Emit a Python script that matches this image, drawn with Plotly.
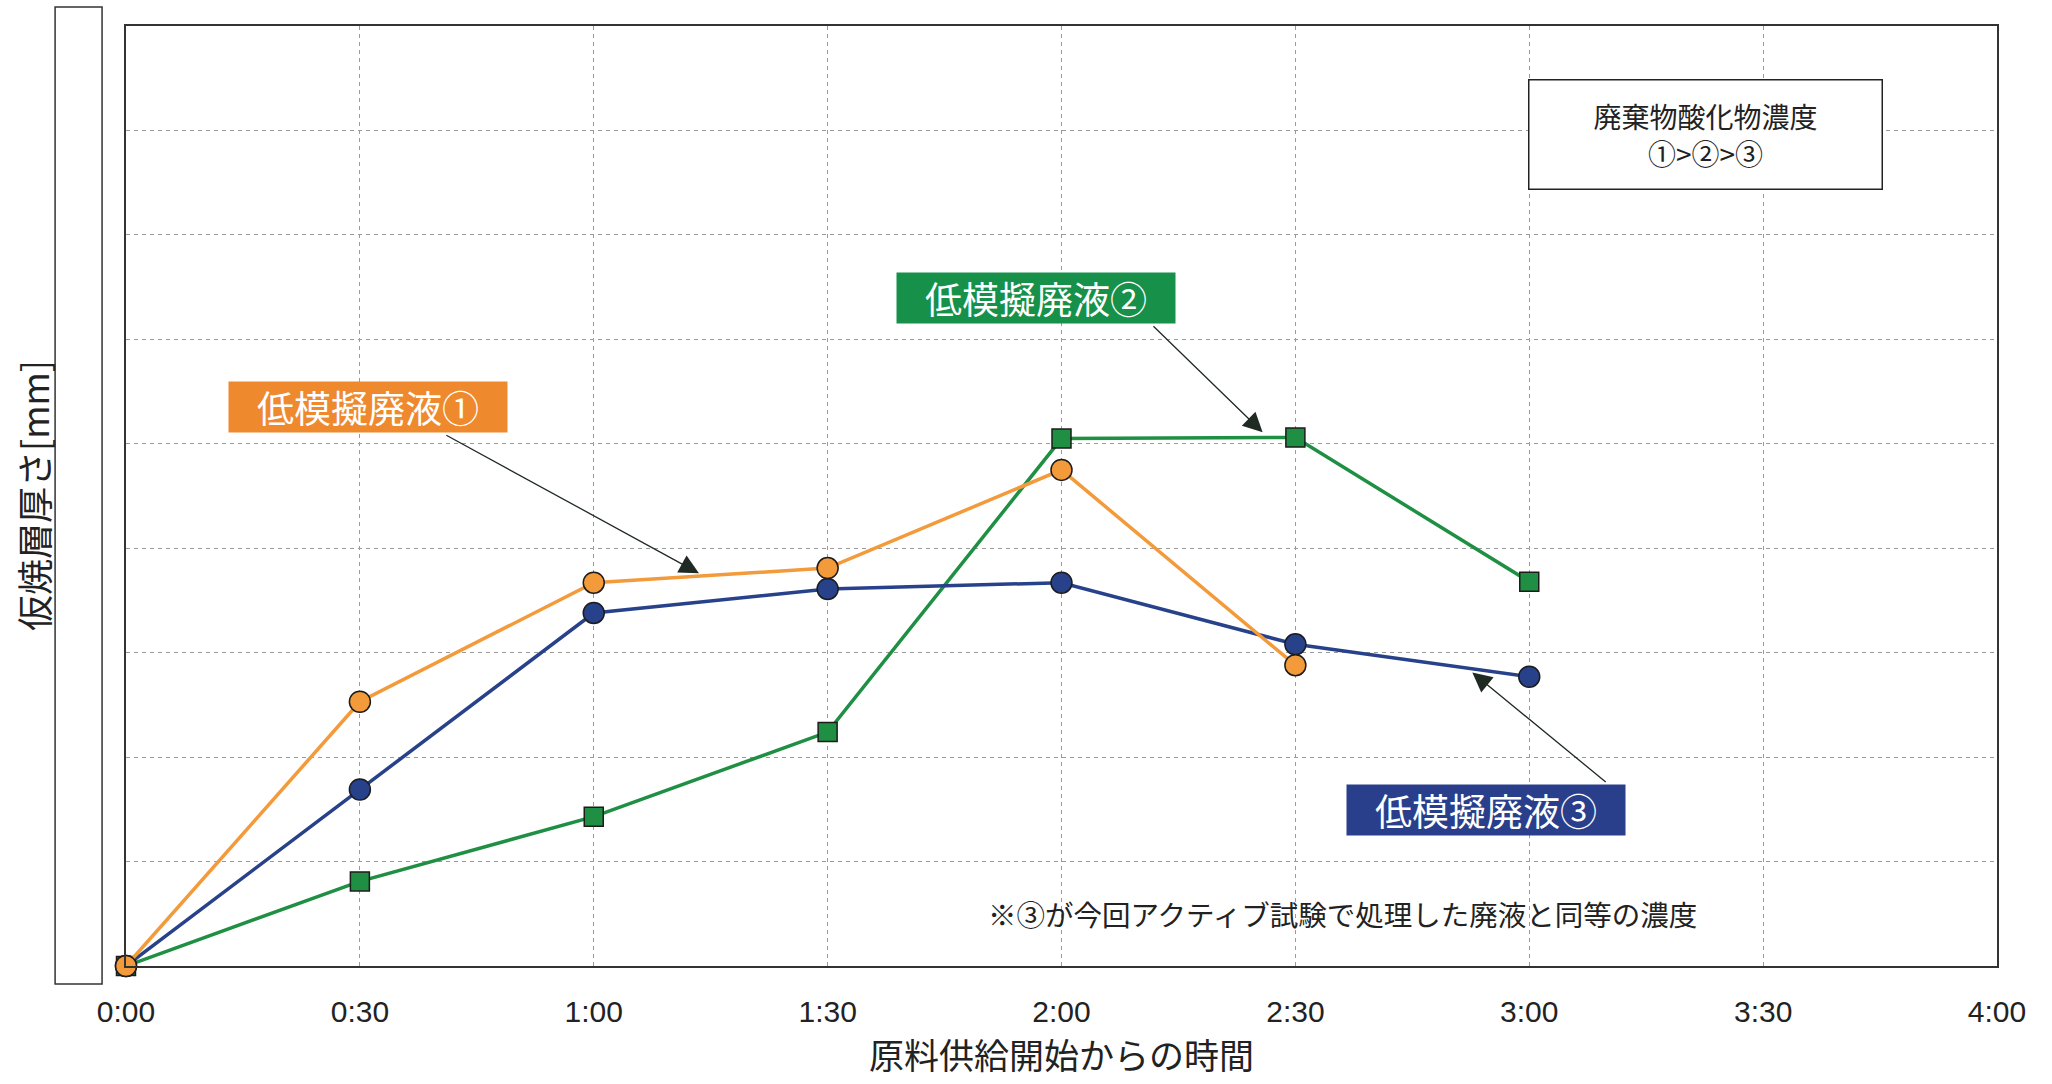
import plotly.graph_objects as go

# ---- data ----
tick_vals = [0, 30, 60, 90, 120, 150, 180, 210, 240]
tick_text = ["0:00", "0:30", "1:00", "1:30", "2:00", "2:30", "3:00", "3:30", "4:00"]

waste1_x = [0, 30, 60, 90, 120, 150]
waste1_y = [0.0, 2.53, 3.67, 3.81, 4.75, 2.88]

waste2_x = [0, 30, 60, 90, 120, 150, 180]
waste2_y = [0.0, 0.81, 1.43, 2.24, 5.05, 5.06, 3.68]

waste3_x = [0, 30, 60, 90, 120, 150, 180]
waste3_y = [0.0, 1.69, 3.38, 3.61, 3.67, 3.08, 2.77]

names = ["低模擬廃液①", "低模擬廃液②", "低模擬廃液③"]

ORANGE = "#F39A3B"
GREEN = "#1E8F43"
BLUE = "#27418A"
EDGE = "#1c1c1c"

JP = "Noto Sans CJK JP"
NUM = "Liberation Sans Narrow, Liberation Sans, Noto Sans CJK JP"

fig = go.Figure()
fig.add_trace(go.Scatter(x=waste2_x, y=waste2_y, name=names[1], mode="lines+markers",
                         cliponaxis=False,
                         line=dict(color=GREEN, width=3.5),
                         marker=dict(symbol="square", size=19, color=GREEN,
                                     line=dict(color=EDGE, width=1.5))))
fig.add_trace(go.Scatter(x=waste3_x, y=waste3_y, name=names[2], mode="lines+markers",
                         cliponaxis=False,
                         line=dict(color=BLUE, width=3.5),
                         marker=dict(symbol="circle", size=21, color=BLUE,
                                     line=dict(color=EDGE, width=1.5))))
fig.add_trace(go.Scatter(x=waste1_x, y=waste1_y, name=names[0], mode="lines+markers",
                         cliponaxis=False,
                         line=dict(color=ORANGE, width=3.5),
                         marker=dict(symbol="circle", size=21, color=ORANGE,
                                     line=dict(color=EDGE, width=1.5))))

annotations = []
# label boxes
label_specs = [
    (names[0], 31.1, 5.35, "#EE892E"),
    (names[1], 116.7, 6.40, "#17904A"),
    (names[2], 174.4, 1.49, "#2A3F8C"),
]
for txt, lx, ly, bg in label_specs:
    annotations.append(dict(x=lx, y=ly, xref="x", yref="y", text=txt, showarrow=False,
                            font=dict(family=JP, size=37, color="white"),
                            bgcolor=bg, borderpad=4, width=270, height=42))
# arrows (tail -> head)
arrow_specs = [
    (40.9, 5.09, 73.5, 3.76),
    (131.6, 6.14, 145.8, 5.11),
    (190.0, 1.75, 172.7, 2.81),
]
for tx, ty, hx, hy in arrow_specs:
    annotations.append(dict(x=hx, y=hy, ax=tx, ay=ty, xref="x", yref="y", axref="x", ayref="y",
                            text="", showarrow=True, arrowhead=2, arrowsize=3,
                            arrowwidth=1.3, arrowcolor="#1f2a22"))
# concentration box
annotations.append(dict(x=202.6, y=7.96, xref="x", yref="y",
                        text="廃棄物酸化物濃度<br>①&gt;②&gt;③", showarrow=False,
                        font=dict(family=JP, size=28, color="#222"),
                        bgcolor="white", bordercolor="#222", borderwidth=1.5,
                        width=350, height=106, align="center"))
# note
annotations.append(dict(x=156.1, y=0.50, xref="x", yref="y",
                        text="※③が今回アクティブ試験で処理した廃液と同等の濃度", showarrow=False,
                        font=dict(family=JP, size=28.5, color="#222")))
# axis titles
annotations.append(dict(x=0.5, y=-0.093, xref="paper", yref="paper", yanchor="middle",
                        text="原料供給開始からの時間", showarrow=False,
                        font=dict(family=JP, size=35, color="#222")))
annotations.append(dict(x=-0.0497, y=0.5, xref="paper", yref="paper", xanchor="center",
                        text="仮焼層厚さ[mm]", showarrow=False, textangle=-90,
                        font=dict(family=JP, size=36, color="#222")))

shapes = [dict(type="rect", xref="paper", yref="paper",
               x0=-0.0379, x1=-0.0128, y0=-0.0191, y1=1.0202,
               line=dict(color="#333", width=1.5), fillcolor="white")]

fig.update_layout(
    width=2052, height=1084,
    margin=dict(l=126, r=55, t=26, b=118),
    paper_bgcolor="white", plot_bgcolor="white",
    showlegend=False,
    annotations=annotations, shapes=shapes,
    xaxis=dict(range=[0, 240], tickvals=tick_vals, ticktext=tick_text,
               showgrid=True, gridcolor="#9a9a9a", griddash="4px,4px", gridwidth=1,
               showline=True, linecolor="#333", linewidth=2, mirror=True,
               ticks="", ticklabelstandoff=18, zeroline=False,
               tickfont=dict(family=NUM, size=30, color="#222")),
    yaxis=dict(range=[0, 9], dtick=1, showticklabels=False,
               showgrid=True, gridcolor="#9a9a9a", griddash="4px,4px", gridwidth=1,
               showline=True, linecolor="#333", linewidth=1.5, mirror=True,
               ticks="", zeroline=False),
)

fig.write_html("out.html")
